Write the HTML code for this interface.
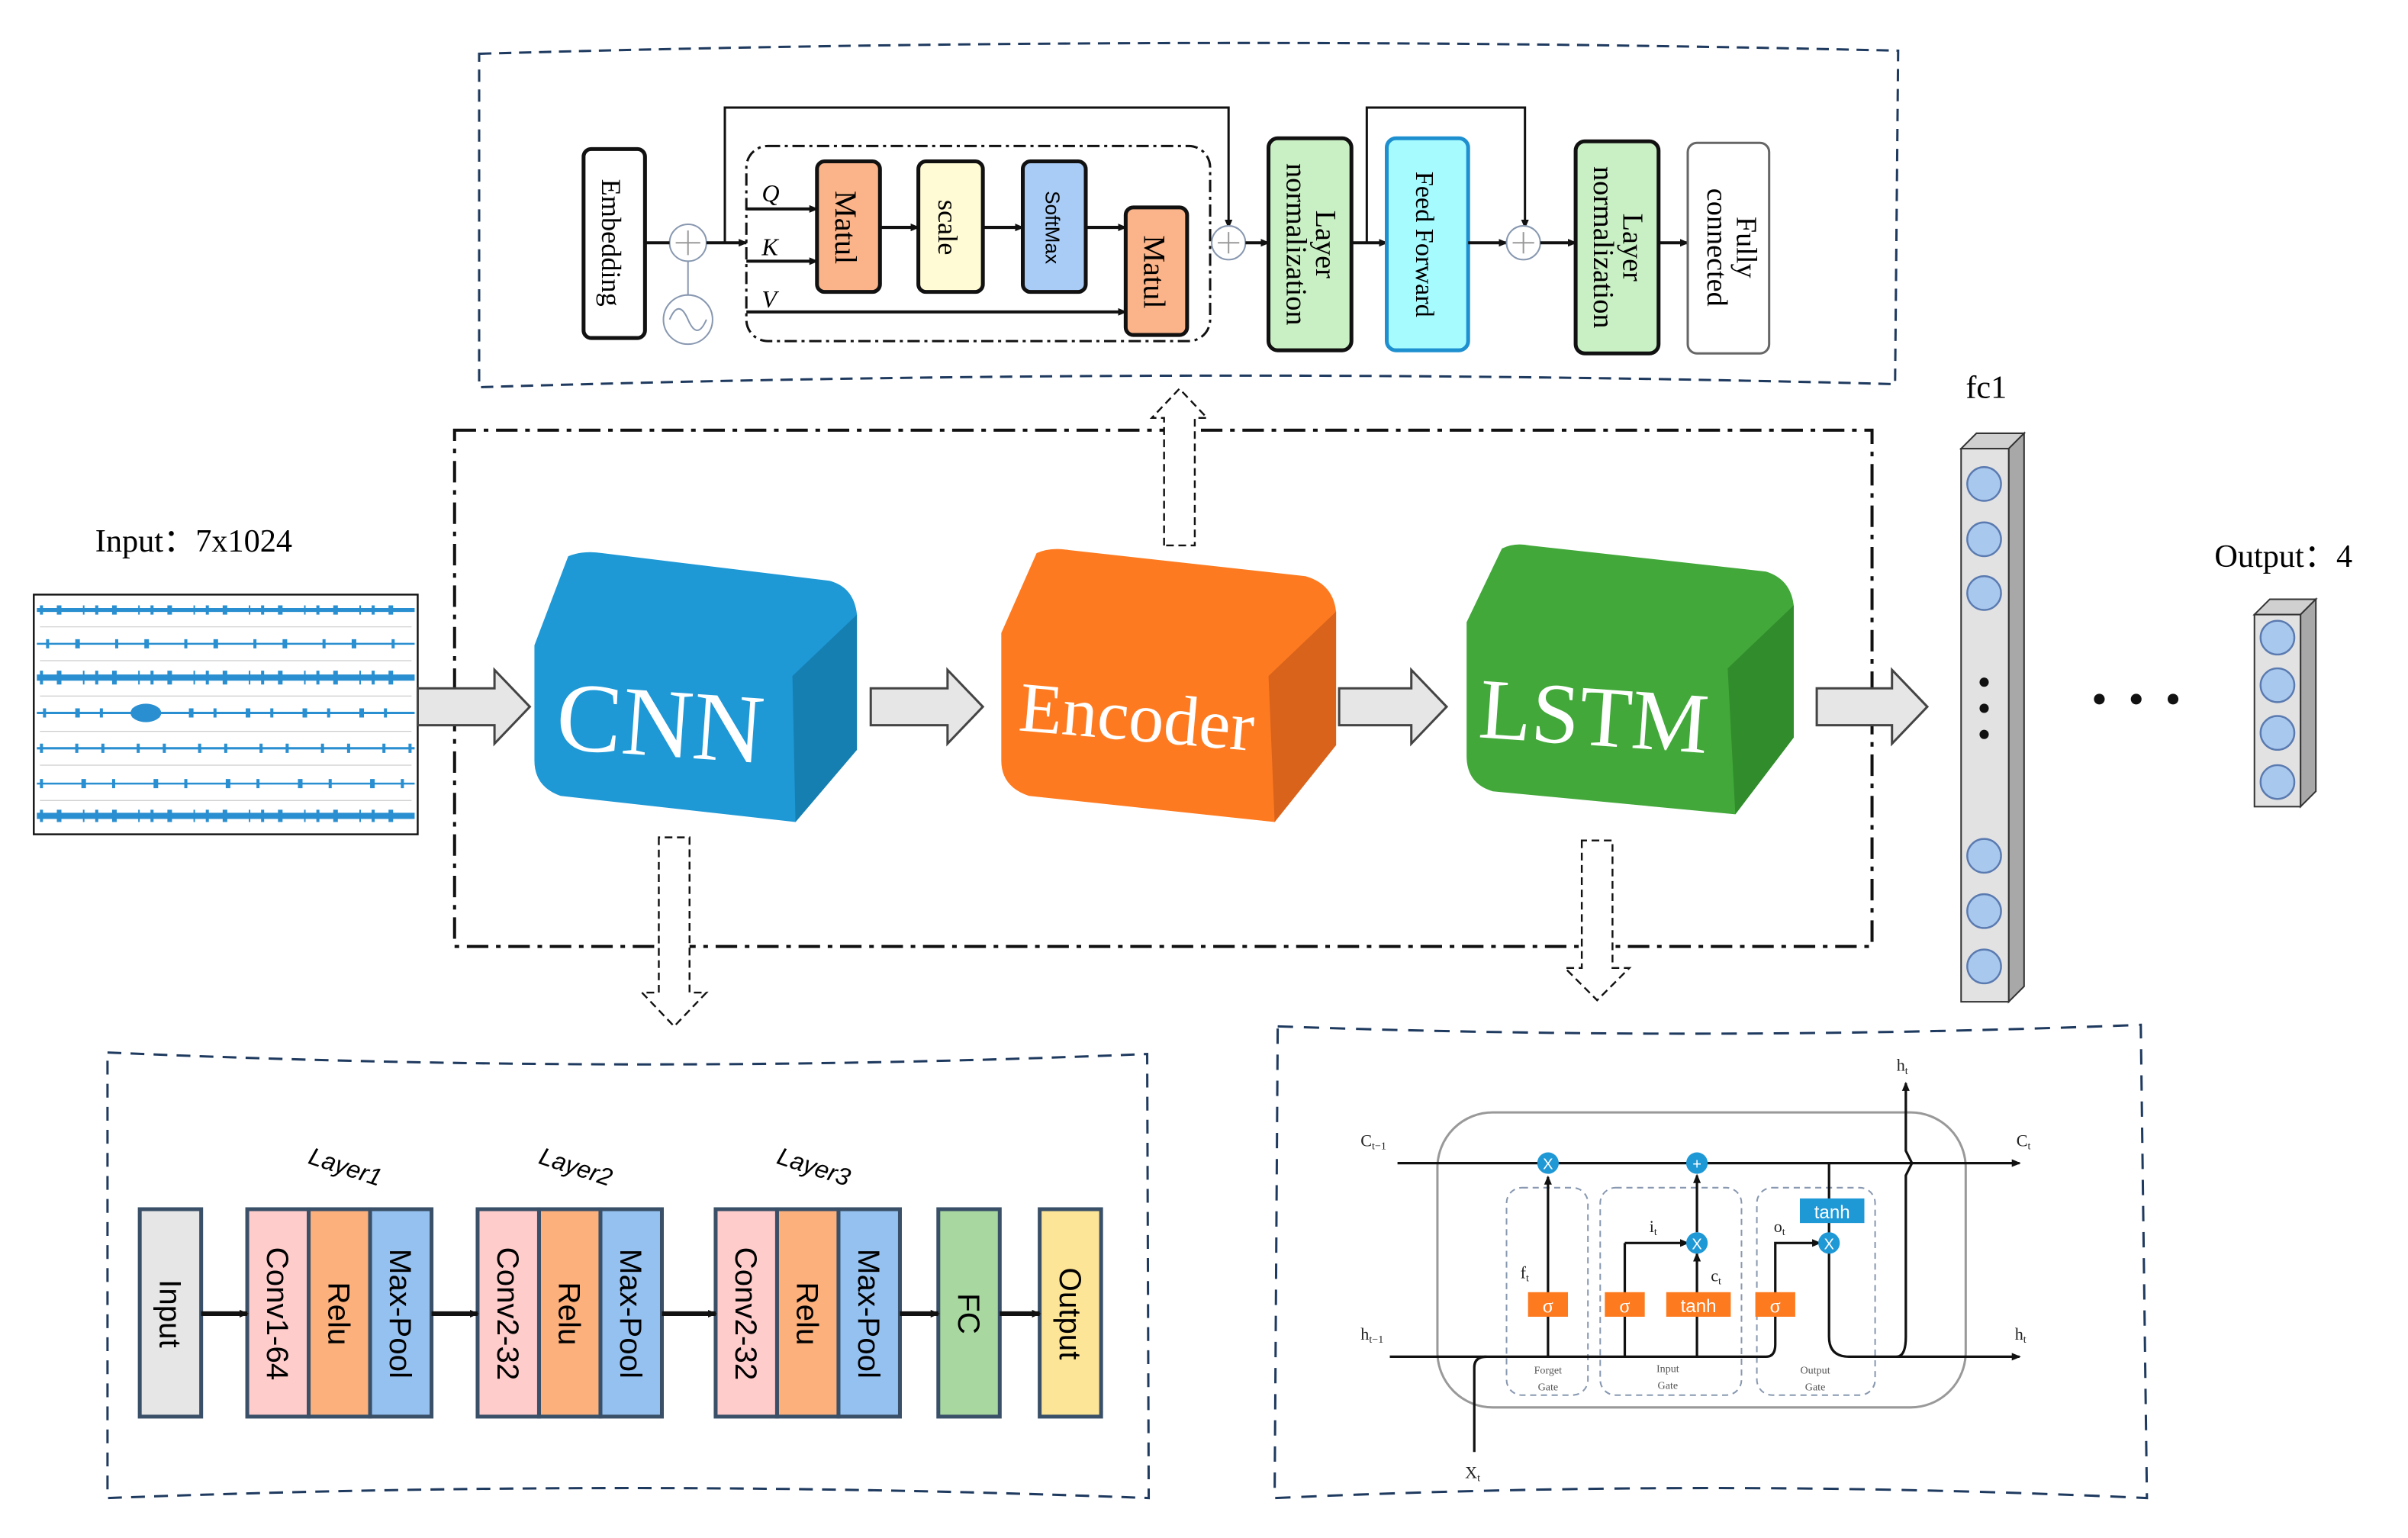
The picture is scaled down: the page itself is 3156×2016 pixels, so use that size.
<!DOCTYPE html>
<html><head><meta charset="utf-8"><style>
html,body{margin:0;padding:0;background:#fff;}
svg{display:block;}
text{font-family:"Liberation Serif",serif;}
.s{font-family:"Liberation Sans",sans-serif;}
</style></head><body>
<svg width="3156" height="2016" viewBox="0 0 1568 1001" preserveAspectRatio="none" xmlns="http://www.w3.org/2000/svg">
<defs>
<marker id="a" markerWidth="8" markerHeight="8" refX="7" refY="4" orient="auto" markerUnits="userSpaceOnUse"><path d="M0,1 L8,4 L0,7 Z" fill="#111"/></marker>
<marker id="b" markerWidth="6" markerHeight="6" refX="5" refY="3" orient="auto" markerUnits="userSpaceOnUse"><path d="M0,0.5 L6,3 L0,5.5 Z" fill="#111"/></marker>
</defs>

<path d="M312,35 Q770,22 1236,33 L1234,250 Q770,238 312,252 Z" fill="none" stroke="#1f3a5f" stroke-width="1.5" stroke-dasharray="8,5"/>
<rect x="380" y="97" width="40" height="123" rx="5" fill="#fff" stroke="#111" stroke-width="2.5"/>
<text transform="translate(392,158) rotate(90)" font-size="18" text-anchor="middle">Embedding</text>
<circle cx="448" cy="158" r="12" fill="#fff" stroke="#8898b0"/>
<path d="M440,158h16M448,150v16" stroke="#999"/>
<circle cx="448" cy="208" r="16" fill="#fff" stroke="#8898b0"/>
<path d="M436,208 q6,-14 12,0 q6,14 12,0" fill="none" stroke="#8898b0"/>
<line x1="448" y1="170" x2="448" y2="192" stroke="#8898b0"/>
<line x1="420" y1="158" x2="436" y2="158" stroke="#111" stroke-width="2"/>
<line x1="460" y1="158" x2="486" y2="158" stroke="#111" stroke-width="2" marker-end="url(#b)"/>
<rect x="486" y="95" width="302" height="127" rx="14" fill="none" stroke="#111" stroke-width="1.5" stroke-dasharray="8,3,2,3"/>
<path d="M472,158 V70 H800 V148" fill="none" stroke="#111" stroke-width="1.5" marker-end="url(#b)"/>
<text x="496" y="131" font-size="16" font-style="italic">Q</text>
<text x="496" y="166" font-size="16" font-style="italic">K</text>
<text x="496" y="200" font-size="16" font-style="italic">V</text>
<line x1="486" y1="136" x2="532" y2="136" stroke="#111" stroke-width="2" marker-end="url(#b)"/>
<line x1="486" y1="170" x2="532" y2="170" stroke="#111" stroke-width="2" marker-end="url(#b)"/>
<line x1="486" y1="203" x2="733" y2="203" stroke="#111" stroke-width="2" marker-end="url(#b)"/>
<rect x="532" y="105" width="41" height="85" rx="5" fill="#fbb489" stroke="#111" stroke-width="2.5"/>
<text transform="translate(544,148) rotate(90)" font-size="20" text-anchor="middle">Matul</text>
<rect x="598" y="105" width="42" height="85" rx="5" fill="#fffbd5" stroke="#111" stroke-width="2.5"/>
<text transform="translate(611,148) rotate(90)" font-size="18" text-anchor="middle">scale</text>
<rect x="666" y="105" width="41" height="85" rx="5" fill="#a9ccf6" stroke="#111" stroke-width="2.5"/>
<text transform="translate(681,148) rotate(90)" font-size="13" text-anchor="middle" class="s">SoftMax</text>
<line x1="573" y1="148" x2="598" y2="148" stroke="#111" stroke-width="2" marker-end="url(#b)"/>
<line x1="640" y1="148" x2="666" y2="148" stroke="#111" stroke-width="2" marker-end="url(#b)"/>
<line x1="707" y1="148" x2="733" y2="148" stroke="#111" stroke-width="2" marker-end="url(#b)"/>
<rect x="733" y="135" width="40" height="83" rx="5" fill="#fbb489" stroke="#111" stroke-width="2.5"/>
<text transform="translate(745,177) rotate(90)" font-size="20" text-anchor="middle">Matul</text>
<circle cx="800" cy="158" r="11" fill="#fff" stroke="#8898b0"/>
<path d="M793,158h14M800,151v14" stroke="#999"/>
<line x1="811" y1="158" x2="826" y2="158" stroke="#111" stroke-width="2" marker-end="url(#b)"/>
<rect x="826" y="90" width="54" height="138" rx="6" fill="#c9efc4" stroke="#111" stroke-width="2.5"/>
<text transform="translate(857,159) rotate(90)" font-size="19" text-anchor="middle">Layer</text>
<text transform="translate(838,159) rotate(90)" font-size="19" text-anchor="middle">normalization</text>
<path d="M890,158 V70 H993 V148" fill="none" stroke="#111" stroke-width="1.5" marker-end="url(#b)"/>
<line x1="880" y1="158" x2="903" y2="158" stroke="#111" stroke-width="2" marker-end="url(#b)"/>
<rect x="903" y="90" width="53" height="138" rx="6" fill="#a6fbff" stroke="#1e90d0" stroke-width="2.5"/>
<text transform="translate(922,159) rotate(90)" font-size="17" text-anchor="middle">Feed Forward</text>
<line x1="956" y1="158" x2="981" y2="158" stroke="#111" stroke-width="2" marker-end="url(#b)"/>
<circle cx="992" cy="158" r="11" fill="#fff" stroke="#8898b0"/>
<path d="M985,158h14M992,151v14" stroke="#999"/>
<line x1="1003" y1="158" x2="1026" y2="158" stroke="#111" stroke-width="2" marker-end="url(#b)"/>
<rect x="1026" y="92" width="54" height="138" rx="6" fill="#c9efc4" stroke="#111" stroke-width="2.5"/>
<text transform="translate(1057,161) rotate(90)" font-size="19" text-anchor="middle">Layer</text>
<text transform="translate(1038,161) rotate(90)" font-size="19" text-anchor="middle">normalization</text>
<line x1="1080" y1="158" x2="1099" y2="158" stroke="#111" stroke-width="2" marker-end="url(#b)"/>
<rect x="1099" y="93" width="53" height="137" rx="6" fill="#fff" stroke="#666" stroke-width="1.5"/>
<text transform="translate(1131,161) rotate(90)" font-size="19" text-anchor="middle">Fully</text>
<text transform="translate(1112,161) rotate(90)" font-size="19" text-anchor="middle">connected</text>

<rect x="296" y="280" width="923" height="336" fill="none" stroke="#111" stroke-width="2" stroke-dasharray="14,5,3,5"/>

<path d="M758,355 V272 H750 L768,253 L786,272 H778 V355 Z" fill="#fff" stroke="#111" stroke-width="1.2" stroke-dasharray="5,3"/>
<path d="M429,545 V646 H418 L439,668 L460,646 H449 V545 Z" fill="#fff" stroke="#111" stroke-width="1.2" stroke-dasharray="5,3"/>
<path d="M1030,547 V630 H1019 L1040,651 L1061,630 H1050 V547 Z" fill="#fff" stroke="#111" stroke-width="1.2" stroke-dasharray="5,3"/>

<text x="62" y="359" font-size="21">Input：7x1024</text>
<rect x="22" y="387" width="250" height="156" fill="#fff" stroke="#111" stroke-width="1.2"/>
<g stroke="#ccc" stroke-width="0.6"><line x1="26" y1="408" x2="268" y2="408"/><line x1="26" y1="430" x2="268" y2="430"/><line x1="26" y1="453" x2="268" y2="453"/><line x1="26" y1="476" x2="268" y2="476"/><line x1="26" y1="498" x2="268" y2="498"/><line x1="26" y1="521" x2="268" y2="521"/></g>
<g stroke="#2a8fd0">
<line x1="24" y1="397" x2="270" y2="397" stroke-width="2.5"/>
<line x1="24" y1="419" x2="270" y2="419" stroke-width="1.2"/>
<line x1="24" y1="441" x2="270" y2="441" stroke-width="4"/>
<line x1="24" y1="464" x2="270" y2="464" stroke-width="1.5"/>
<line x1="24" y1="487" x2="270" y2="487" stroke-width="1.5"/>
<line x1="24" y1="510" x2="270" y2="510" stroke-width="1.2"/>
<line x1="24" y1="531" x2="270" y2="531" stroke-width="4"/>
</g>
<g stroke="#2a8fd0" stroke-width="6" stroke-dasharray="2,9,3,14,1,7">
<line x1="26" y1="397" x2="268" y2="397"/>
<line x1="30" y1="419" x2="268" y2="419" stroke-dasharray="2,17,3,23"/>
<line x1="26" y1="441" x2="268" y2="441" stroke-width="9"/>
<line x1="28" y1="464" x2="268" y2="464" stroke-dasharray="2,19,3,13"/>
<line x1="26" y1="487" x2="268" y2="487" stroke-dasharray="2,21,2,15"/>
<line x1="26" y1="510" x2="268" y2="510" stroke-dasharray="2,25,3,17"/>
<line x1="26" y1="531" x2="268" y2="531" stroke-width="8"/>
</g>
<ellipse cx="95" cy="464" rx="10" ry="6" fill="#2a8fd0"/>

<g fill="#e6e6e6" stroke="#444" stroke-width="1.5">
<path d="M272,448 H322 V436 L345,460 L322,484 V472 H272 Z"/>
<path d="M567,448 H617 V436 L640,460 L617,484 V472 H567 Z"/>
<path d="M872,448 H919 V436 L942,460 L919,484 V472 H872 Z"/>
<path d="M1183,448 H1232 V436 L1255,460 L1232,484 V472 H1183 Z"/>
</g>

<path d="M348,420 L370,362 Q380,358 392,360 L540,378 Q556,382 558,400 L558,488 L518,535 L365,518 Q348,512 348,495 Z" fill="#1f98d6"/>
<path d="M516,440 L558,400 L558,488 L518,535 Z" fill="#157fb2"/>
<text x="430" y="492" font-size="64" fill="#fff" text-anchor="middle" transform="rotate(4 430 470)">CNN</text>

<path d="M652,412 L675,360 Q684,356 696,358 L850,375 Q868,380 870,398 L870,485 L830,535 L670,518 Q652,512 652,495 Z" fill="#fe7a20"/>
<path d="M826,440 L870,398 L870,485 L830,535 Z" fill="#d9631b"/>
<text x="740" y="482" font-size="46" fill="#fff" text-anchor="middle" transform="rotate(5 740 470)">Encoder</text>

<path d="M955,405 L978,357 Q986,353 996,355 L1150,372 Q1166,377 1168,394 L1168,480 L1130,530 L972,515 Q955,510 955,492 Z" fill="#42a83a"/>
<path d="M1125,435 L1168,394 L1168,480 L1130,530 Z" fill="#318c2c"/>
<text x="1038" y="485" font-size="56" fill="#fff" text-anchor="middle" transform="rotate(4 1038 465)">LSTM</text>

<text x="1280" y="259" font-size="21">fc1</text>
<path d="M1277,292 L1287,282 L1318,282 L1308,292 Z" fill="#d0d0d0" stroke="#333"/>
<path d="M1308,292 L1318,282 L1318,642 L1308,652 Z" fill="#a8a8a8" stroke="#333"/>
<rect x="1277" y="292" width="31" height="360" fill="#e2e2e2" stroke="#333"/>
<g fill="#a9c8ee" stroke="#5a7ab0" stroke-width="1.2">
<circle cx="1292" cy="315" r="11"/><circle cx="1292" cy="351" r="11"/><circle cx="1292" cy="386" r="11"/>
<circle cx="1292" cy="557" r="11"/><circle cx="1292" cy="593" r="11"/><circle cx="1292" cy="629" r="11"/></g>
<g fill="#111"><circle cx="1292" cy="444" r="3"/><circle cx="1292" cy="461" r="3"/><circle cx="1292" cy="478" r="3"/>
<circle cx="1367" cy="455" r="3.5"/><circle cx="1391" cy="455" r="3.5"/><circle cx="1415" cy="455" r="3.5"/></g>

<text x="1442" y="369" font-size="21">Output：4</text>
<path d="M1468,400 L1478,390 L1508,390 L1498,400 Z" fill="#d0d0d0" stroke="#333"/>
<path d="M1498,400 L1508,390 L1508,515 L1498,525 Z" fill="#a8a8a8" stroke="#333"/>
<rect x="1468" y="400" width="30" height="125" fill="#e2e2e2" stroke="#333"/>
<g fill="#a9c8ee" stroke="#5a7ab0" stroke-width="1.2">
<circle cx="1483" cy="415" r="11"/><circle cx="1483" cy="446" r="11"/><circle cx="1483" cy="477" r="11"/><circle cx="1483" cy="509" r="11"/></g>

<path d="M70,685 Q410,700 747,686 L748,975 Q410,962 70,975 Z" fill="none" stroke="#1f3a5f" stroke-width="1.5" stroke-dasharray="9,6"/>
<text transform="translate(200,757) rotate(18)" font-size="16" font-style="italic" class="s">Layer1</text>
<text transform="translate(350,757) rotate(18)" font-size="16" font-style="italic" class="s">Layer2</text>
<text transform="translate(505,757) rotate(18)" font-size="16" font-style="italic" class="s">Layer3</text>
<g stroke="#3a5068" stroke-width="2.5">
<rect x="91" y="787" width="40" height="135" fill="#e6e6e6"/>
<rect x="161" y="787" width="40" height="135" fill="#ffcccc"/>
<rect x="201" y="787" width="40" height="135" fill="#fcb07c"/>
<rect x="241" y="787" width="40" height="135" fill="#94c1f0"/>
<rect x="311" y="787" width="40" height="135" fill="#ffcccc"/>
<rect x="351" y="787" width="40" height="135" fill="#fcb07c"/>
<rect x="391" y="787" width="40" height="135" fill="#94c1f0"/>
<rect x="466" y="787" width="40" height="135" fill="#ffcccc"/>
<rect x="506" y="787" width="40" height="135" fill="#fcb07c"/>
<rect x="546" y="787" width="40" height="135" fill="#94c1f0"/>
<rect x="611" y="787" width="40" height="135" fill="#a8d8a0"/>
<rect x="677" y="787" width="40" height="135" fill="#fde597"/>
</g>
<g font-size="20" text-anchor="middle">
<text class="s" transform="translate(104,855) rotate(90)">Input</text>
<text class="s" transform="translate(174,855) rotate(90)">Conv1-64</text>
<text class="s" transform="translate(214,855) rotate(90)">Relu</text>
<text class="s" transform="translate(254,855) rotate(90)">Max-Pool</text>
<text class="s" transform="translate(324,855) rotate(90)">Conv2-32</text>
<text class="s" transform="translate(364,855) rotate(90)">Relu</text>
<text class="s" transform="translate(404,855) rotate(90)">Max-Pool</text>
<text class="s" transform="translate(479,855) rotate(90)">Conv2-32</text>
<text class="s" transform="translate(519,855) rotate(90)">Relu</text>
<text class="s" transform="translate(559,855) rotate(90)">Max-Pool</text>
<text class="s" transform="translate(624,855) rotate(90)">FC</text>
<text class="s" transform="translate(690,855) rotate(90)">Output</text>
</g>
<g stroke="#111" stroke-width="3">
<line x1="131" y1="855" x2="161" y2="855" marker-end="url(#b)"/>
<line x1="281" y1="855" x2="311" y2="855" marker-end="url(#b)"/>
<line x1="431" y1="855" x2="466" y2="855" marker-end="url(#b)"/>
<line x1="586" y1="855" x2="611" y2="855" marker-end="url(#b)"/>
<line x1="651" y1="855" x2="677" y2="855" marker-end="url(#b)"/>
</g>

<path d="M832,668 Q1115,678 1394,667 L1398,975 Q1115,962 830,975 Z" fill="none" stroke="#1f3a5f" stroke-width="1.5" stroke-dasharray="10,7"/>
<rect x="936" y="724" width="344" height="192" rx="36" fill="none" stroke="#999" stroke-width="1.5"/>
<g fill="none" stroke="#8898b0" stroke-dasharray="4,3">
<rect x="981" y="773" width="53" height="135" rx="10"/>
<rect x="1042" y="773" width="92" height="135" rx="10"/>
<rect x="1144" y="773" width="77" height="135" rx="10"/>
</g>
<g stroke="#111" stroke-width="1.6" fill="none">
<line x1="910" y1="757" x2="1315" y2="757" marker-end="url(#b)"/>
<path d="M905,883 H1150 Q1156,883 1156,875 V809 H1185" marker-end="url(#b)"/>
<path d="M1191,815 V870 Q1191,883 1204,883 H1315" marker-end="url(#b)"/>
<path d="M1235,883 Q1241,883 1241,870 V765 l4,-8 l-4,-8 V705" marker-end="url(#b)"/>
<path d="M960,945 V890 Q960,883 968,883"/>
<line x1="1008" y1="883" x2="1008" y2="766" marker-end="url(#b)"/>
<line x1="1058" y1="883" x2="1058" y2="809"/>
<line x1="1058" y1="809" x2="1099" y2="809" marker-end="url(#b)"/>
<line x1="1105" y1="883" x2="1105" y2="816" marker-end="url(#b)"/>
<line x1="1105" y1="802" x2="1105" y2="765" marker-end="url(#b)"/>
<line x1="1191" y1="757" x2="1191" y2="803"/>
</g>
<g fill="#1f98d6"><circle cx="1008" cy="757" r="7"/><circle cx="1105" cy="757" r="7"/><circle cx="1105" cy="809" r="7"/><circle cx="1191" cy="809" r="7"/></g>
<g fill="#fff" font-size="10" text-anchor="middle"><text x="1008" y="761" class="s">X</text><text x="1105" y="761" class="s">+</text><text x="1105" y="813" class="s">X</text><text x="1191" y="813" class="s">X</text></g>
<rect x="1172" y="780" width="42" height="16" fill="#1f98d6"/>
<text x="1193" y="793" font-size="12" fill="#fff" text-anchor="middle" class="s">tanh</text>
<g fill="#fd7a1f"><rect x="995" y="841" width="26" height="16"/><rect x="1045" y="841" width="26" height="16"/><rect x="1085" y="841" width="42" height="16"/><rect x="1143" y="841" width="26" height="16"/></g>
<g fill="#fff" font-size="13" text-anchor="middle"><text x="1008" y="854">σ</text><text x="1058" y="854">σ</text><text x="1106" y="854" class="s" font-size="12">tanh</text><text x="1156" y="854">σ</text></g>
<g font-size="11" fill="#222">
<text x="886" y="746">C<tspan font-size="7" dy="2">t−1</tspan></text>
<text x="1313" y="746">C<tspan font-size="7" dy="2">t</tspan></text>
<text x="886" y="872">h<tspan font-size="7" dy="2">t−1</tspan></text>
<text x="1312" y="872">h<tspan font-size="7" dy="2">t</tspan></text>
<text x="1235" y="697">h<tspan font-size="7" dy="2">t</tspan></text>
<text x="954" y="962">X<tspan font-size="7" dy="2">t</tspan></text>
<text x="990" y="832">f<tspan font-size="7" dy="2">t</tspan></text>
<text x="1074" y="802">i<tspan font-size="7" dy="2">t</tspan></text>
<text x="1114" y="834">c<tspan font-size="7" dy="2">t</tspan></text>
<text x="1155" y="802">o<tspan font-size="7" dy="2">t</tspan></text>
</g>
<g font-size="7" fill="#555" text-anchor="middle">
<text x="1008" y="894">Forget</text><text x="1008" y="905">Gate</text>
<text x="1086" y="893">Input</text><text x="1086" y="904">Gate</text>
<text x="1182" y="894">Output</text><text x="1182" y="905">Gate</text>
</g>
</svg>
</body></html>
